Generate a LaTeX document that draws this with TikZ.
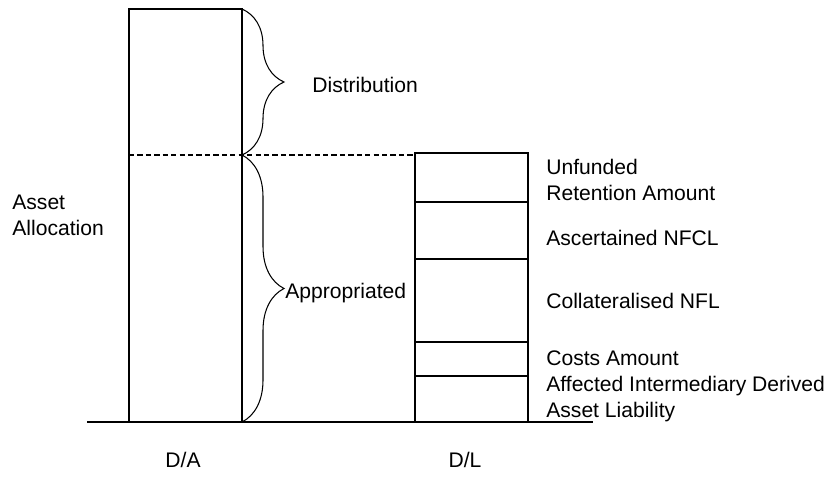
\documentclass[tikz,border=0pt]{standalone}
\usepackage{fontspec}
\setmainfont{Liberation Sans}
\usepackage{tikz}
\usetikzlibrary{decorations.pathreplacing}
\usetikzlibrary{positioning}

\begin{document}
\begin{tikzpicture}
    \tikzset{bar/.style={
      draw,
      line width=0.6pt,
      inner sep=0pt,
      outer sep=0pt,
      minimum width=2.26cm},
      lbl/.style={
      anchor=west,
      inner sep=0pt,
      align=left,
      font=\fontsize{12}{14.8}\selectfont},
      brc/.style={
      decorate,
      line width=0.6pt,
      decoration={brace, amplitude=0.84cm}}}
    \useasboundingbox (0,0) rectangle (16.58,9.66);
    % asset bar
    \node[bar, minimum height=8.26cm, anchor=south west] at (2.58, 1.22) (da) {};
    % liability stack
    \node[bar, minimum height=0.92cm, anchor=south west] at (8.30, 1.22) (aid) {};
    \node[bar, minimum height=0.68cm, above=0pt of aid] (cost) {};
    \node[bar, minimum height=1.66cm, above=0pt of cost] (coll) {};
    \node[bar, minimum height=1.14cm, above=0pt of coll] (asc) {};
    \node[bar, minimum height=0.98cm, above=0pt of asc] (unf) {};
    \coordinate (split) at (2.58, 6.56);
    \coordinate (gl) at (1.74, 1.22);
    \coordinate (gr) at (11.86, 1.22);
    \draw[line width=0.6pt] (gl) -- (gr);
    \draw[line width=0.6pt, dash pattern=on 3pt off 1.8pt] (split) -- (split -| unf.west);
    \draw[brc] (da.north east) -- (split -| da.east);
    \draw[brc] (split -| da.east) -- (da.south east);
    % labels
    \node[lbl] at (6.24, 7.96) (dist) {Distribution};
    \node[lbl] at (5.70, 3.80) (appr) {Appropriated};
    \node[lbl] at (0.24, 5.35) (alloc) {Asset\\Allocation};
    \node[lbl] at (10.92, 6.06) (tunf) {Unfunded\\Retention Amount};
    \node[lbl] at (10.92, 4.90) (tasc) {Ascertained NFCL};
    \node[lbl] at (10.92, 3.64) (tcoll) {Collateralised NFL};
    \node[lbl] at (10.92, 2.50) (tcost) {Costs Amount};
    \node[lbl] at (10.92, 1.67) (taid) {Affected Intermediary Derived\\Asset Liability};
    \node[lbl, anchor=center] at (3.66, 0.46) (tda) {D/A};
    \node[lbl, anchor=center] at (9.30, 0.46) (tdl) {D/L};
\end{tikzpicture}
\end{document}
